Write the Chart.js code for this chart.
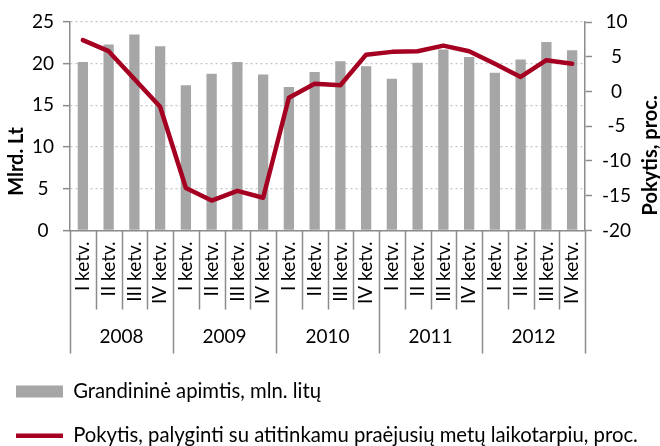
<!DOCTYPE html>
<html>
<head>
<meta charset="utf-8">
<script src="https://cdn.jsdelivr.net/npm/chart.js@4"></script>
<style>
  html, body { margin: 0; padding: 0; background: #fff; }
</style>
</head>
<body>
<canvas id="chart" width="660" height="446"></canvas>
<script>
const years = ['2008', '2009', '2010', '2011', '2012']
const quarters = ['I ketv.', 'II ketv.', 'III ketv.', 'IV ketv.']
// grandininė apimtis, mlrd. Lt (left axis)
const volume = [20.2, 22.3, 23.5, 22.1, 17.4, 18.8, 20.2, 18.7, 17.2, 19.0,
                20.3, 19.7, 18.2, 20.1, 21.7, 20.8, 18.9, 20.5, 22.6, 21.6]
// pokytis, proc. (right axis)
const change = [7.4, 5.8, 1.8, -2.2, -13.9, -15.7, -14.3, -15.3, -0.9, 1.1,
                0.9, 5.3, 5.7, 5.8, 6.6, 5.8, 4.0, 2.1, 4.5, 4.0]

const labels = []
for (let y of years) for (let q of quarters) labels.push(q)

const FONT = 'Lato'
const AXIS = '#8c8c8c'
Chart.defaults.font.family = FONT
Chart.defaults.font.size = 19
Chart.defaults.color = '#000'

// category separators below the x axis (longer ones between years)
const separators = {
  id: 'separators',
  afterDraw(chart) {
    let ctx = chart.ctx
    let x = chart.scales.x
    let x2 = chart.scales.x2
    ctx.save()
    ctx.strokeStyle = AXIS
    ctx.lineWidth = 1.5
    ctx.beginPath()
    for (let i = 0; i <= labels.length; i++) {
      let px = Math.round(x.getPixelForValue(i - 0.5)) + 0.5
      let end = i % quarters.length == 0 ? x2.bottom - 4 : x.bottom
      ctx.moveTo(px, x.top)
      ctx.lineTo(px, end)
    }
    ctx.stroke()
    ctx.restore()
  }
}

// both axis titles read bottom-to-top
const axisTitles = {
  id: 'axisTitles',
  afterDraw(chart) {
    let ctx = chart.ctx
    let area = chart.chartArea
    ctx.save()
    ctx.font = 'bold 20px ' + FONT
    ctx.fillStyle = '#000'
    ctx.textAlign = 'center'
    ctx.textBaseline = 'middle'
    let items = [['Mlrd. Lt', 17, area.bottom - 69], ['Pokytis, proc.', chart.width - 9, area.bottom - 75]]
    for (let [text, tx, ty] of items) {
      ctx.save()
      ctx.translate(tx, ty)
      ctx.rotate(-Math.PI / 2)
      ctx.fillText(text, 0, 0)
      ctx.restore()
    }
    ctx.restore()
  }
}

new Chart(document.getElementById('chart').getContext('2d'), {
  data: {
    labels: labels,
    datasets: [{
      type: 'bar',
      label: 'Grandininė apimtis, mln. litų',
      data: volume,
      backgroundColor: '#a6a6a6',
      barPercentage: 0.4,
      categoryPercentage: 1,
      pointStyle: 'rect',
      yAxisID: 'y',
      order: 2
    },
    {
      type: 'line',
      label: 'Pokytis, palyginti su atitinkamu praėjusių metų laikotarpiu, proc.',
      data: change,
      borderColor: '#a50021',
      backgroundColor: '#a50021',
      borderWidth: 4.5,
      borderCapStyle: 'round',
      borderJoinStyle: 'round',
      pointRadius: 0,
      pointStyle: 'line',
      tension: 0,
      yAxisID: 'y1',
      order: 1
    }]
  },
  options: {
    responsive: false,
    animation: false,
    layout: { padding: { top: 22, left: -8, right: 0, bottom: -10 } },
    plugins: {
      tooltip: { enabled: false },
      legend: {
        position: 'bottom',
        align: 'start',
        labels: {
          usePointStyle: true,
          pointStyleWidth: 47,
          boxHeight: 12,
          padding: 24,
          color: '#000',
          font: { size: 20.3 },
          sort: (a, b) => a.datasetIndex - b.datasetIndex
        }
      }
    },
    scales: {
      x: {
        offset: true,
        weight: 0,
        grid: { display: false, offset: true, drawTicks: false },
        border: { color: AXIS, width: 1.5 },
        ticks: { autoSkip: false, minRotation: 90, maxRotation: 90, padding: 11 },
        afterFit(s) { s.height = 79 }
      },
      x2: {
        type: 'category',
        position: 'bottom',
        labels: years,
        offset: true,
        weight: 1,
        grid: { display: false, drawTicks: false },
        border: { display: false },
        ticks: { padding: 16 },
        afterFit(s) { s.height = 48 }
      },
      y: {
        position: 'left',
        min: 0,
        max: 25,
        ticks: { stepSize: 5, padding: 9, crossAlign: 'center' },
        grid: { color: '#c4c4c4', lineWidth: 1.3, tickColor: AXIS, tickLength: 7, tickWidth: 1.5 },
        border: { color: AXIS, width: 1.5, dash: [2, 3] },
        afterFit(s) { s.width = 78 }
      },
      y1: {
        position: 'right',
        min: -20,
        max: 10,
        ticks: { stepSize: 5, padding: 10, crossAlign: 'center' },
        grid: { drawOnChartArea: false, tickColor: AXIS, tickLength: 7, tickWidth: 1.5 },
        border: { color: AXIS, width: 1.5 },
        afterFit(s) { s.width = 75 }
      }
    }
  },
  plugins: [separators, axisTitles]
})
</script>
</body>
</html>
